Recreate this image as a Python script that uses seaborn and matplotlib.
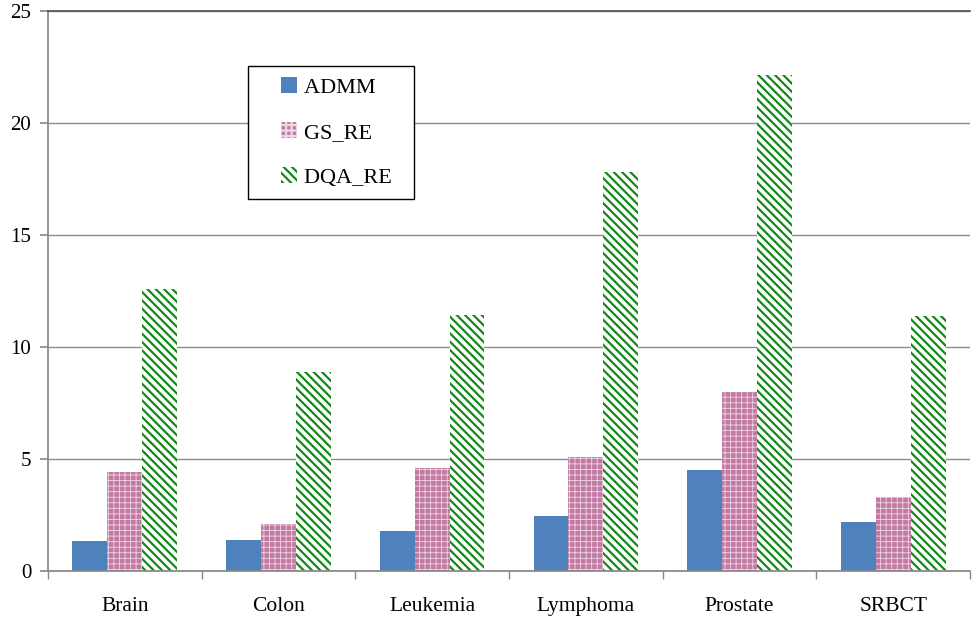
import matplotlib.pyplot as plt
import pandas as pd
import seaborn as sns
from matplotlib.legend_handler import HandlerPatch
from matplotlib.patches import Rectangle

datasets = ["Brain", "Colon", "Leukemia", "Lymphoma", "Prostate", "SRBCT"]
methods = ["ADMM", "GS_RE", "DQA_RE"]
admm = [1.34, 1.4, 1.8, 2.45, 4.5, 2.2]
gs_re = [4.42, 2.1, 4.6, 5.1, 8.0, 3.3]
dqa_re = [12.6, 8.9, 11.45, 17.8, 22.15, 11.4]

df = pd.DataFrame({"dataset": datasets, "ADMM": admm, "GS_RE": gs_re, "DQA_RE": dqa_re})
df = df.melt(id_vars="dataset", var_name="method", value_name="value")

sns.set_theme(style="white")
plt.rcParams["font.family"] = ["Liberation Serif", "DejaVu Serif"]
plt.rcParams["hatch.linewidth"] = 1.6

fig, ax = plt.subplots(figsize=(9.77, 6.18), dpi=100)
fig.subplots_adjust(left=0.049, right=0.993, top=0.982, bottom=0.076)

sns.barplot(
    data=df, x="dataset", y="value", hue="method", hue_order=methods,
    order=datasets, width=0.68, ax=ax, saturation=1, legend=False,
)

styles = {
    "ADMM": dict(facecolor="#4F81BD", edgecolor="#4F81BD", hatch=None, hlw=None),
    "GS_RE": dict(facecolor="#C27AA2", edgecolor="#EED6E4", hatch="+++", hlw=0.6),
    "DQA_RE": dict(facecolor="white", edgecolor="#13891A", hatch="\\\\\\\\", hlw=1.6),
}
for method, container in zip(methods, ax.containers):
    st = styles[method]
    for bar in container:
        bar.set_facecolor(st["facecolor"])
        bar.set_edgecolor(st["edgecolor"])
        bar.set_linewidth(0)
        if st["hatch"]:
            bar.set_hatch(st["hatch"])
            if hasattr(bar, "set_hatch_linewidth"):
                bar.set_hatch_linewidth(st["hlw"])

ax.set_ylim(0, 25)
ax.set_xlim(-0.5, 5.5)
ax.set_yticks(range(0, 26, 5))
ax.set_xlabel("")
ax.set_ylabel("")
ax.yaxis.grid(True, color="#8C8C8C", linewidth=1)
ax.set_axisbelow(True)
ax.spines["right"].set_visible(False)
ax.spines["top"].set_color("#555555")
ax.spines["left"].set_color("#888888")
ax.spines["bottom"].set_color("#888888")

ax.set_xticks([i - 0.5 for i in range(7)], minor=True)
ax.tick_params(axis="x", which="major", length=0, labelsize=15.5, pad=19, labelcolor="black")
ax.tick_params(axis="x", which="minor", length=6, color="#888888", direction="out", bottom=True)
ax.tick_params(axis="y", length=6, color="#888888", direction="out", left=True,
               labelsize=15, pad=6, labelcolor="black")


# small square swatch sitting at the right end of the handle area
def square_swatch(legend, orig_handle, xdescent, ydescent, width, height, fontsize):
    return Rectangle((-xdescent + width - height, -ydescent), height, height)


leg = ax.legend(
    handles=[c.patches[0] for c in ax.containers], labels=[m + "  " for m in methods],
    loc="upper left", bbox_to_anchor=(0.217, 0.902), fontsize=16,
    labelspacing=1.08, handlelength=1.7, handleheight=0.75, handletextpad=0.3,
    borderpad=0.5, borderaxespad=0, fancybox=False, framealpha=1, edgecolor="black",
    handler_map={Rectangle: HandlerPatch(patch_func=square_swatch)},
)
leg.get_frame().set_linewidth(1)
for t in leg.get_texts():
    t.set_color("black")

plt.savefig("out.png", dpi=100)
